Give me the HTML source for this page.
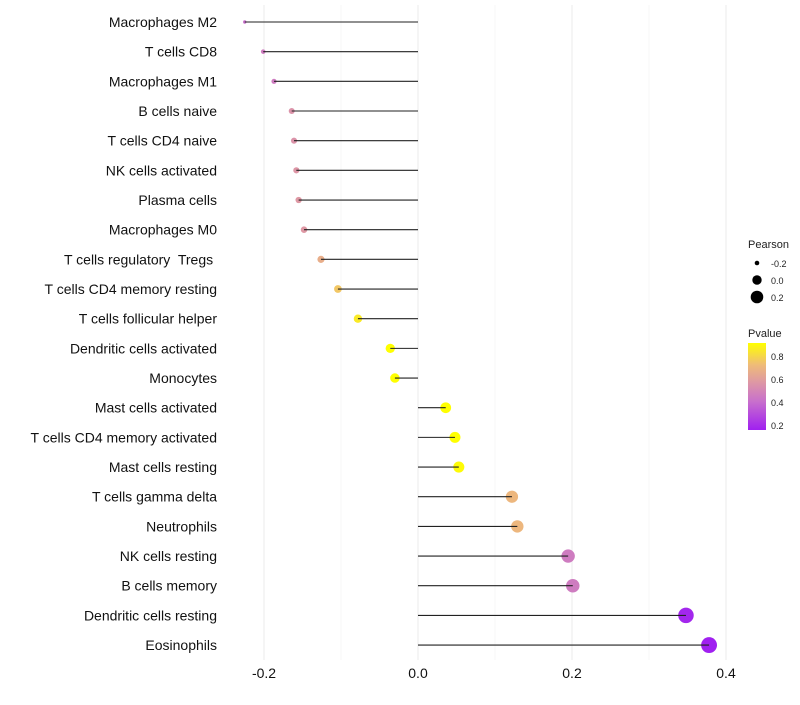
<!DOCTYPE html>
<html><head><meta charset="utf-8"><style>
body{margin:0;background:#fff;font-family:"Liberation Sans",sans-serif}
svg text{font-family:"Liberation Sans",sans-serif;white-space:pre}
</style></head><body>
<svg id="chart" width="800" height="700">
<defs><linearGradient id="pg" x1="0" y1="1" x2="0" y2="0">
<stop offset="0" stop-color="#A020F0"/><stop offset="0.33" stop-color="#C870CC"/><stop offset="0.55" stop-color="#DE98A4"/><stop offset="0.75" stop-color="#EFBC78"/><stop offset="1" stop-color="#FFFF00"/></linearGradient></defs>
<g id="grid"></g><g id="marks"></g><g id="labels"></g><g id="legend"></g>
</svg>
<script>
const categories=["Macrophages M2","T cells CD8","Macrophages M1","B cells naive","T cells CD4 naive","NK cells activated","Plasma cells","Macrophages M0","T cells regulatory  Tregs ","T cells CD4 memory resting","T cells follicular helper","Dendritic cells activated","Monocytes","Mast cells activated","T cells CD4 memory activated","Mast cells resting","T cells gamma delta","Neutrophils","NK cells resting","B cells memory","Dendritic cells resting","Eosinophils"];
const pearson=[-0.225,-0.201,-0.187,-0.164,-0.161,-0.158,-0.155,-0.148,-0.126,-0.104,-0.078,-0.036,-0.030,0.036,0.048,0.053,0.122,0.129,0.195,0.201,0.348,0.378];
const pvalue=[0.40,0.45,0.45,0.55,0.55,0.56,0.57,0.57,0.66,0.75,0.85,0.93,0.95,0.93,0.91,0.90,0.70,0.70,0.45,0.45,0.18,0.16];
const xTicks=[-0.2,0,0.2,0.4];
const xTickLabels=["-0.2","0.0","0.2","0.4"];
const minorTicks=[-0.1,0.1,0.3];
const NS="http://www.w3.org/2000/svg";
const xs=v=>418+v*770;
const ys=i=>22+i*29.67;
const rs=v=>Math.sqrt(Math.max(1,2.9+100*(v+0.225)));
const stops=[[0.16,[160,32,240]],[0.4,[200,112,204]],[0.57,[222,152,164]],[0.72,[239,188,120]],[0.91,[255,255,0]]];
function col(p){p=Math.max(0.16,Math.min(0.91,p));for(let k=0;k<stops.length-1;k++){const a=stops[k],b=stops[k+1];if(p<=b[0]){const t=(p-a[0])/(b[0]-a[0]);return "rgb("+a[1].map((c,j)=>Math.round(c+(b[1][j]-c)*t)).join(",")+")";}}return "rgb(255,255,0)";}
function mk(t,at,par){const e=document.createElementNS(NS,t);for(const k in at)e.setAttribute(k,at[k]);document.getElementById(par).appendChild(e);return e;}
minorTicks.forEach(v=>{const l=mk("line",{x1:xs(v),x2:xs(v),y1:5,y2:660,stroke:"#f2f2f2","stroke-width":0.6},"grid");

});
xTicks.forEach((v,i)=>{const l=mk("line",{x1:xs(v),x2:xs(v),y1:5,y2:660,stroke:"#ebebeb","stroke-width":1},"grid");


const t=mk("text",{x:xs(v),y:678,"text-anchor":"middle","font-size":14,fill:"#111"},"labels");t.textContent=xTickLabels[i];

});
categories.forEach((c,i)=>{const y=ys(i);
const t=mk("text",{x:217,y:y+5,"text-anchor":"end","font-size":14,fill:"#111"},"labels");t.textContent=c;


const d=mk("circle",{cx:xs(pearson[i]),cy:y,r:rs(pearson[i]),fill:col(pvalue[i])},"marks");


const l=mk("line",{x1:xs(0),x2:xs(pearson[i]),y1:y,y2:y,stroke:"#222","stroke-width":1.1},"marks");

});
</script>
<svg style="position:absolute;left:0;top:0" width="800" height="700">
<text x="748" y="248" font-size="11" fill="#222">Pearson</text>
<circle cx="757" cy="263" r="2.3" fill="#000"/>
<text x="771" y="267" font-size="9" fill="#222">-0.2</text>
<circle cx="757" cy="280" r="4.7" fill="#000"/>
<text x="771" y="284" font-size="9" fill="#222">0.0</text>
<circle cx="757" cy="297" r="6.3" fill="#000"/>
<text x="771" y="301" font-size="9" fill="#222">0.2</text>
<text x="748" y="337" font-size="11" fill="#222">Pvalue</text>
<rect x="748" y="343" width="18" height="87" fill="url(#pg)"/>
<text x="771" y="360" font-size="9" fill="#222">0.8</text>
<text x="771" y="383" font-size="9" fill="#222">0.6</text>
<text x="771" y="406" font-size="9" fill="#222">0.4</text>
<text x="771" y="429" font-size="9" fill="#222">0.2</text>
</svg>
</body></html>
